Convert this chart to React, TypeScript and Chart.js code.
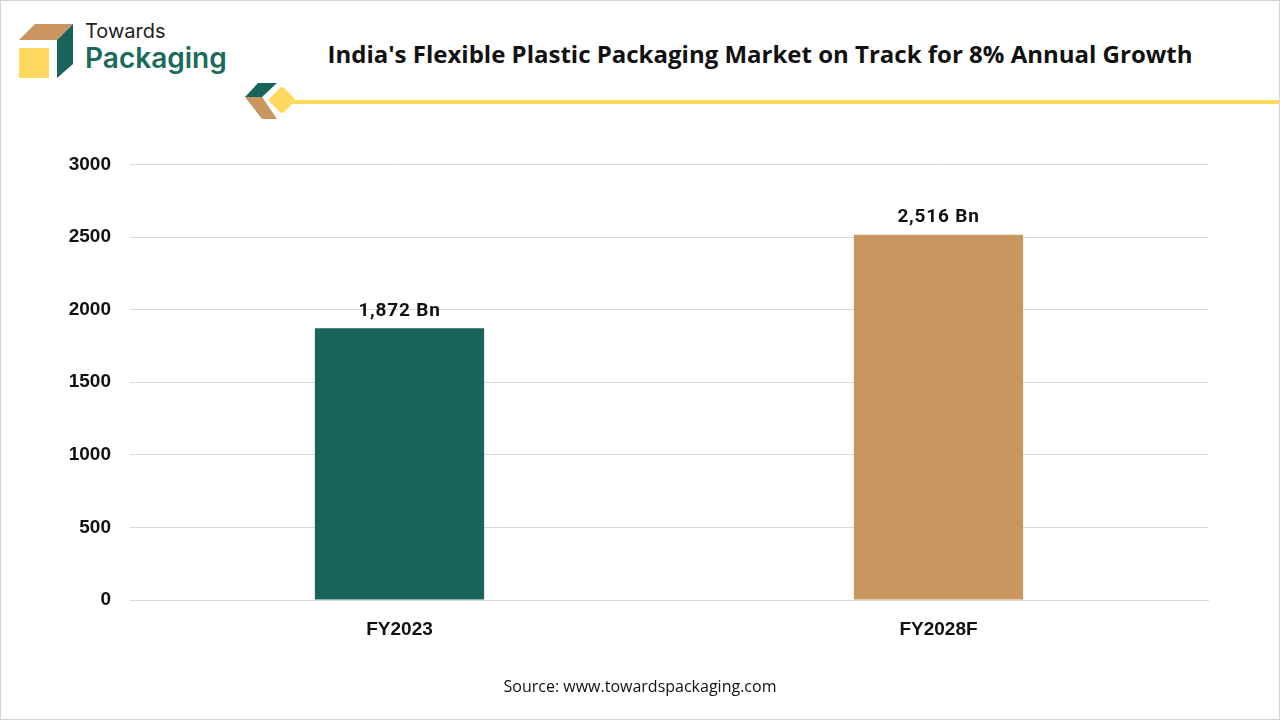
import React, { useEffect, useRef } from "react";
import { Chart, registerables } from "chart.js";

Chart.register(...registerables);

const categories = ["FY2023", "FY2028F"];
const values = [1872, 2516];
const valueLabels = ["1,872 Bn", "2,516 Bn"];
const barColors = ["#18645A", "#C9965F"];
const yMax = 3000;
const yStep = 500;

const TITLE = "India's Flexible Plastic Packaging Market on Track for 8% Annual Growth";
const SOURCE = "Source: www.towardspackaging.com";

const labelPlugin = {
  id: "valueLabels",
  afterDatasetsDraw(chart: any) {
    const { ctx } = chart;
    const meta = chart.getDatasetMeta(0);
    ctx.save();
    ctx.font = "bold 19px Roboto, 'Liberation Sans', sans-serif";
    try {
      (ctx as any).letterSpacing = "0.8px";
    } catch (e) {}
    ctx.fillStyle = "#111111";
    ctx.textAlign = "center";
    ctx.textBaseline = "middle";
    meta.data.forEach((bar: any, i: number) => {
      ctx.fillText(valueLabels[i], bar.x, bar.y - 17);
    });
    ctx.restore();
  },
};

export default function App() {
  const ref = useRef<HTMLCanvasElement | null>(null);

  useEffect(() => {
    document.body.style.margin = "0";
    if (!ref.current) return;
    const tickFont = { family: "'Liberation Sans', Arial, sans-serif", size: 19, weight: "bold" as const };
    const chart = new Chart(ref.current, {
      type: "bar",
      data: {
        labels: categories,
        datasets: [
          {
            data: values,
            backgroundColor: barColors,
            categoryPercentage: 1,
            barPercentage: 0.314,
          },
        ],
      },
      options: {
        animation: false,
        responsive: false,
        maintainAspectRatio: false,
        layout: { padding: { top: 12, right: 72, left: 0, bottom: 0 } },
        plugins: { legend: { display: false }, tooltip: { enabled: false } },
        scales: {
          x: {
            grid: { display: false, drawTicks: false },
            border: { color: "#D9D9D9", width: 1 },
            ticks: {
              color: "#111111",
              font: tickFont,
              padding: 18,
            },
            afterFit(scale: any) {
              scale.height = 80;
            },
          },
          y: {
            min: 0,
            max: yMax,
            ticks: {
              stepSize: yStep,
              color: "#111111",
              font: tickFont,
              padding: 19,
              callback: (v: any) => String(v),
            },
            grid: { color: "#D9D9D9", drawTicks: false },
            border: { display: false },
            afterFit(scale: any) {
              scale.width = 130;
            },
          },
        },
      },
      plugins: [labelPlugin],
    });
    return () => chart.destroy();
  }, []);

  return (
    <div
      style={{
        position: "relative",
        width: 1280,
        height: 720,
        background: "#ffffff",
        overflow: "hidden",
        boxSizing: "border-box",
        border: "1px solid #D4D4D4",
      }}
    >
      <svg
        width={1280}
        height={140}
        style={{ position: "absolute", left: -1, top: -1 }}
      >
        <polygon points="35,24 73,24 57,40 19,40" fill="#C9965F" />
        <polygon points="73,24 73,64 57,78 57,40" fill="#18645A" />
        <rect x={19} y={48} width={30} height={30} fill="#FFD85E" />
        <polygon points="258,83 277,83 262,97 245,97" fill="#18645A" />
        <polygon points="245,97 262,97 277,119 262,119" fill="#C9965F" />
        <rect x={288} y={100} width={992} height={4} fill="#FFD85E" />
        <rect
          x={272}
          y={90}
          width={20}
          height={20}
          rx={3}
          fill="#FFD85E"
          transform="rotate(45 282 100)"
        />
      </svg>
      <div
        style={{
          position: "absolute",
          left: 84,
          top: 18,
          fontFamily: "Inter, 'Open Sans', sans-serif",
          fontSize: 20,
          color: "#222222",
          lineHeight: "24px",
        }}
      >
        Towards
      </div>
      <div
        style={{
          position: "absolute",
          left: 84,
          top: 40,
          fontFamily: "Inter, 'Open Sans', sans-serif",
          fontSize: 28,
          fontWeight: 600,
          color: "#1A6B5A",
          lineHeight: "34px",
        }}
      >
        Packaging
      </div>
      <div
        style={{
          position: "absolute",
          left: 0,
          width: 1518,
          top: 37,
          textAlign: "center",
          fontFamily: "'Open Sans', sans-serif",
          fontSize: 24,
          fontWeight: 700,
          color: "#111111",
          lineHeight: "32px",
        }}
      >
        {TITLE}
      </div>
      <canvas
        ref={ref}
        width={1280}
        height={546}
        style={{ position: "absolute", left: -1, top: 133, width: 1280, height: 546 }}
      />
      <div
        style={{
          position: "absolute",
          left: -1,
          width: 1280,
          top: 674,
          textAlign: "center",
          fontFamily: "'Open Sans', sans-serif",
          fontSize: 16,
          color: "#111111",
          lineHeight: "22px",
        }}
      >
        {SOURCE}
      </div>
    </div>
  );
}
